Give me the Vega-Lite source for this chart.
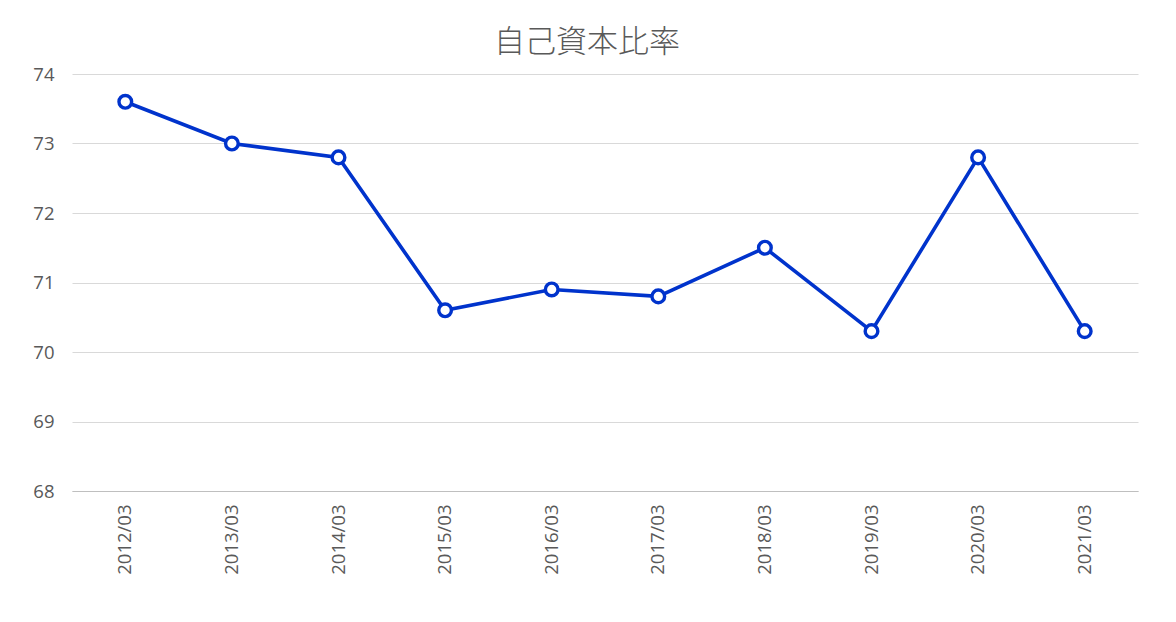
{
  "$schema": "https://vega.github.io/schema/vega-lite/v6.json",
  "autosize": "none",
  "width": 1066,
  "height": 417,
  "padding": {"left": 72, "top": 74, "right": 38, "bottom": 131},
  "background": "white",
  "title": {
    "text": "自己資本比率",
    "font": "Noto Sans CJK JP",
    "fontSize": 31,
    "fontWeight": 300,
    "color": "#595959",
    "anchor": "middle",
    "dx": -18,
    "offset": 6
  },
  "data": {
    "values": [
      {"period": "2012/03", "ratio": 73.6},
      {"period": "2013/03", "ratio": 73.0},
      {"period": "2014/03", "ratio": 72.8},
      {"period": "2015/03", "ratio": 70.6},
      {"period": "2016/03", "ratio": 70.9},
      {"period": "2017/03", "ratio": 70.8},
      {"period": "2018/03", "ratio": 71.5},
      {"period": "2019/03", "ratio": 70.3},
      {"period": "2020/03", "ratio": 72.8},
      {"period": "2021/03", "ratio": 70.3}
    ]
  },
  "encoding": {
    "x": {
      "field": "period",
      "type": "ordinal",
      "scale": {"type": "band", "paddingInner": 0, "paddingOuter": 0},
      "axis": {
        "title": null,
        "labelAngle": -90,
        "labelFont": "Open Sans",
        "labelFontSize": 18.5,
        "labelColor": "#595959",
        "labelPadding": 13,
        "ticks": false,
        "domainColor": "#bfbfbf",
        "grid": false
      }
    },
    "y": {
      "field": "ratio",
      "type": "quantitative",
      "scale": {"domain": [68, 74], "zero": false, "nice": false},
      "axis": {
        "title": null,
        "values": [68, 69, 70, 71, 72, 73, 74],
        "labelFont": "Open Sans",
        "labelFontSize": 18.5,
        "labelColor": "#595959",
        "labelPadding": 18,
        "labelOverlap": false,
        "ticks": false,
        "domain": false,
        "gridColor": "#d9d9d9"
      }
    }
  },
  "layer": [
    {"mark": {"type": "line", "color": "#0033cc", "strokeWidth": 3.6}},
    {"mark": {"type": "point", "shape": "circle", "filled": true, "fill": "white", "stroke": "#0033cc", "strokeWidth": 3.4, "size": 160, "opacity": 1}}
  ],
  "config": {"view": {"stroke": null}}
}
